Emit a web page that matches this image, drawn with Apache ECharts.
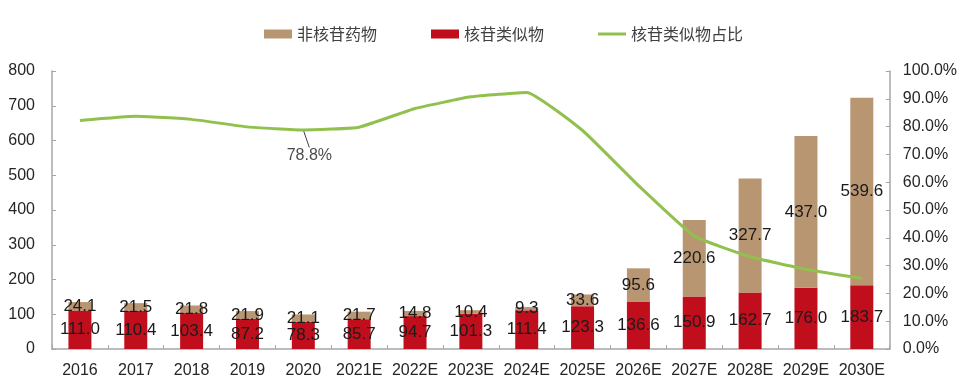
<!DOCTYPE html>
<html><head><meta charset="utf-8">
<script src="https://cdn.jsdelivr.net/npm/echarts@6/dist/echarts.min.js"></script>
<style>html,body{margin:0;padding:0;background:#fff}#c{width:960px;height:390px}</style>
</head><body><div id="c"></div>
<script>
const categories = ['2016','2017','2018','2019','2020','2021E','2022E','2023E','2024E','2025E','2026E','2027E','2028E','2029E','2030E'];
const analogValues = [111.0,110.4,103.4,87.2,78.3,85.7,94.7,101.3,111.4,123.3,136.6,150.9,162.7,176.0,183.7];
const nonNucValues = [24.1,21.5,21.8,21.9,21.1,21.7,14.8,10.4,9.3,33.6,95.6,220.6,327.7,437.0,539.6];
const shareValues = [82.2,83.7,82.6,79.9,78.8,79.8,86.5,90.7,92.3,78.6,58.8,40.6,33.2,28.7,25.4];
const shareLabelValues = [null,null,null,null,78.8,null,null,null,null,null,null,null,null,null,null];
const leftTicks = {min:0,max:800,interval:100};
const rightTicks = {min:0,max:100,interval:10};

const axisColor = '#A6A6A6';
const txt = '#262626';
const font = 'Liberation Sans, Arial, sans-serif';
const chart = echarts.init(document.getElementById('c'), null, {renderer:'canvas'});
chart.setOption({
  animation:false,
  textStyle:{fontFamily:font},
  legend:{
    left:259, top:21, itemWidth:28, itemHeight:9, itemGap:54,
    textStyle:{fontFamily:'Noto Sans CJK SC', fontSize:16, color:'#404040'},
    data:[{name:'非核苷药物', icon:'rect'},{name:'核苷类似物', icon:'rect'},
          {name:'核苷类似物占比', icon:'path://M0,0L28,0L28,3L0,3Z'}]
  },
  grid:{left:52, right:69, top:71, bottom:41, containLabel:false},
  xAxis:{
    type:'category', data:categories,
    axisLine:{lineStyle:{color:axisColor, width:1.5}},
    axisTick:{show:true, inside:true, length:4, lineStyle:{color:axisColor}},
    axisLabel:{color:txt, fontSize:16, margin:14, fontFamily:font, interval:0}
  },
  yAxis:[
    {type:'value', min:leftTicks.min, max:leftTicks.max, interval:leftTicks.interval,
     axisLine:{show:true, lineStyle:{color:axisColor, width:1.5}},
     axisTick:{show:true, inside:true, length:4, lineStyle:{color:axisColor}},
     splitLine:{show:false},
     axisLabel:{color:txt, fontSize:16, margin:17, fontFamily:font}},
    {type:'value', min:rightTicks.min, max:rightTicks.max, interval:rightTicks.interval,
     axisLine:{show:true, lineStyle:{color:axisColor, width:1.5}},
     axisTick:{show:true, inside:true, length:4, lineStyle:{color:axisColor}},
     splitLine:{show:false},
     axisLabel:{color:txt, fontSize:16, margin:13, fontFamily:font, formatter:v=>v.toFixed(1)+'%'}}
  ],
  series:[
    {name:'核苷类似物', type:'bar', stack:'s', data:analogValues, barWidth:23,
     itemStyle:{color:'#C10E1D'},
     label:{show:true, position:'inside', color:'#1a1a1a', fontSize:17, fontFamily:font, formatter:p=>p.value.toFixed(1)}},
    {name:'非核苷药物', type:'bar', stack:'s', data:nonNucValues, barWidth:23,
     itemStyle:{color:'#B99672'},
     label:{show:true, position:'inside', color:'#1a1a1a', fontSize:17, fontFamily:font, formatter:p=>p.value.toFixed(1)}},
    {name:'核苷类似物占比', type:'line', yAxisIndex:1, data:shareValues, smooth:0.12,
     symbol:'none', lineStyle:{color:'#92C04F', width:3}, itemStyle:{color:'#92C04F'}},
    {name:'label', type:'scatter', yAxisIndex:1, data:shareLabelValues, symbolSize:1,
     itemStyle:{color:'rgba(0,0,0,0)'},
     label:{show:true, position:'bottom', distance:17, color:'#1a1a1a', fontSize:16, fontFamily:font,
            formatter:p=>p.value.toFixed(1)+'%'},
     labelLine:{show:true, lineStyle:{color:'#404040', width:1}},
     labelLayout:{dx:6, dy:0}}
  ]
});
</script></body></html>
